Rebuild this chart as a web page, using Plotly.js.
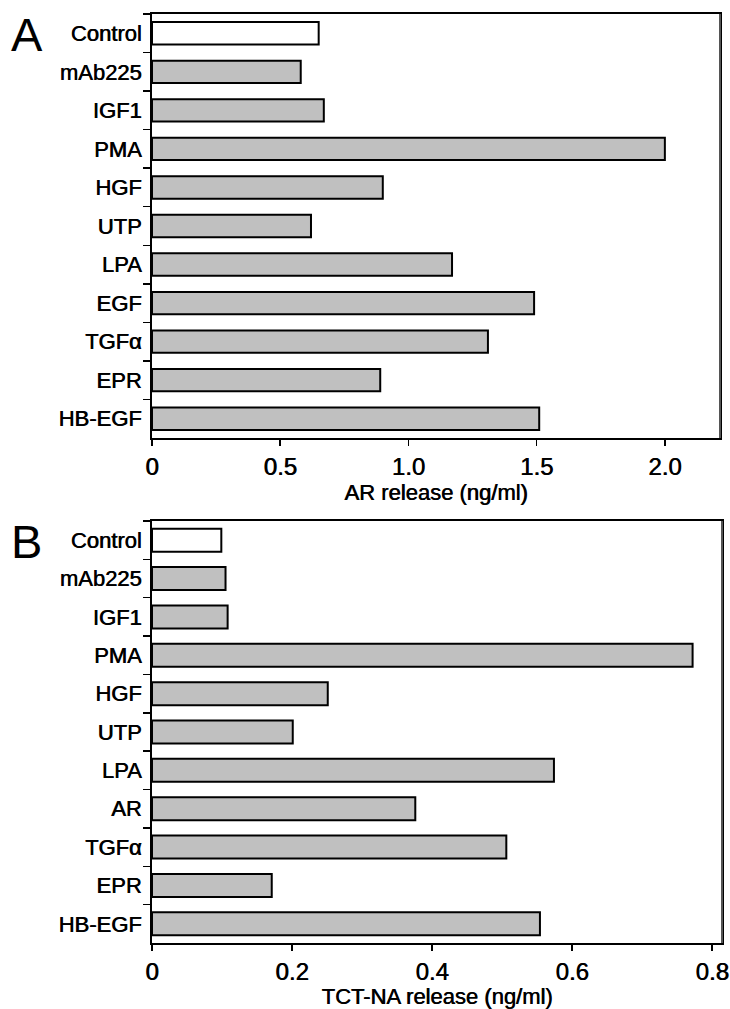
<!DOCTYPE html>
<html><head><meta charset="utf-8">
<script src="https://cdn.plot.ly/plotly-3.0.1.min.js"></script>
<style>html,body{margin:0;padding:0;background:#fff}</style>
</head><body><div id="chart" style="width:730px;height:1009px"></div>
<script>
const categoriesA = ['Control','mAb225','IGF1','PMA','HGF','UTP','LPA','EGF','TGFα','EPR','HB-EGF'];
const valuesA = [0.65,0.58,0.67,2.0,0.90,0.62,1.17,1.49,1.31,0.89,1.51];
const categoriesB = ['Control','mAb225','IGF1','PMA','HGF','UTP','LPA','AR','TGFα','EPR','HB-EGF'];
const valuesB = [0.099,0.105,0.108,0.772,0.251,0.201,0.574,0.376,0.506,0.171,0.554];
const xTickValsA = [0,0.5,1.0,1.5,2.0];
const xTickTextA = ['0','0.5','1.0','1.5','2.0'];
const xTickValsB = [0,0.2,0.4,0.6,0.8];
const xTickTextB = ['0','0.2','0.4','0.6','0.8'];
const titleA = 'AR release (ng/ml)';
const titleB = 'TCT-NA release (ng/ml)';

const FONT = 'Liberation Sans, Arial, sans-serif';
const SH = '0.6px 0 0 #000';
function fills(cats){ return cats.map(c => c === 'Control' ? '#ffffff' : '#c0c0c0'); }

const traces = [
  {type:'bar', orientation:'h', x:valuesA, y:categoriesA, xaxis:'x', yaxis:'y',
   width:0.58, marker:{color:fills(categoriesA), line:{color:'#000', width:2}}, hoverinfo:'x+y'},
  {type:'bar', orientation:'h', x:valuesB, y:categoriesB, xaxis:'x2', yaxis:'y2',
   width:0.6, marker:{color:fills(categoriesB), line:{color:'#000', width:2}}, hoverinfo:'x+y'}
];

const W = 730, H = 1009;
const axX = (title, tv, tt, range, anchor, standoff) => ({
  anchor: anchor, range: range, tickvals: tv, ticktext: tt, ticks:'outside', ticklen:6, tickwidth:1.5,
  tickcolor:'#000', showline:true, linecolor:'#000', linewidth:2, mirror:true, showgrid:false, zeroline:false,
  tickfont:{family:FONT, size:24, color:'#000', shadow:SH},
  title:{text:title, font:{family:FONT, size:22, color:'#000', shadow:SH}, standoff:standoff}
});
const axY = (cats, anchor) => ({
  anchor: anchor, type:'category', categoryarray:cats, categoryorder:'array', autorange:'reversed',
  ticks:'outside', tickson:'boundaries', ticklen:7, tickwidth:1.5, tickcolor:'#000',
  showline:true, linecolor:'#000', linewidth:2, mirror:true, showgrid:false, zeroline:false,
  ticklabelstandoff:4,
  tickfont:{family:FONT, size:22, color:'#000', shadow:SH}
});

const rightEdge = (xr, yr) => ({type:'line', xref:xr+' domain', yref:yr+' domain', x0:1, x1:1, y0:0, y1:1,
  line:{color:'#555', width:2}, layer:'above'});

const layout = {
  width:W, height:H, margin:{l:0,r:0,t:0,b:0}, paper_bgcolor:'#fff', plot_bgcolor:'#fff',
  showlegend:false, bargap:0,
  xaxis: Object.assign(axX(titleA, xTickValsA, xTickTextA, [0,2.215], 'y', 3), {domain:[152/W, 720/W]}),
  yaxis: Object.assign(axY(categoriesA, 'x'), {domain:[1-438/H, 1-14/H]}),
  xaxis2: Object.assign(axX(titleB, xTickValsB, xTickTextB, [0,0.814], 'y2', 9), {domain:[152/W, 722/W]}),
  yaxis2: Object.assign(axY(categoriesB, 'x2'), {domain:[1-943/H, 1-521/H]}),
  shapes:[rightEdge('x','y'), rightEdge('x2','y2')],
  annotations:[
    {text:'A', xref:'paper', yref:'paper', x:9/W, y:1-35/H, xanchor:'left', yanchor:'middle', showarrow:false,
     font:{family:FONT, size:47, color:'#000'}},
    {text:'B', xref:'paper', yref:'paper', x:9/W, y:1-541/H, xanchor:'left', yanchor:'middle', showarrow:false,
     font:{family:FONT, size:47, color:'#000'}}
  ]
};
Plotly.newPlot('chart', traces, layout, {staticPlot:true, displayModeBar:false});
</script></body></html>
